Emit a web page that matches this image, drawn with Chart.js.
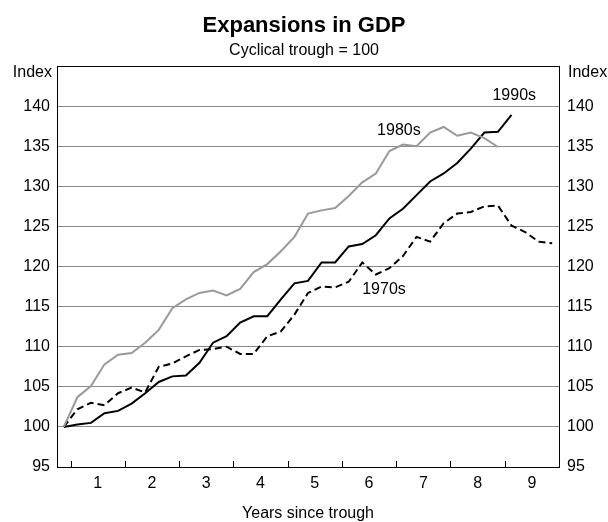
<!DOCTYPE html>
<html>
<head>
<meta charset="utf-8">
<script src="https://cdn.jsdelivr.net/npm/chart.js@4.4.1/dist/chart.umd.min.js"></script>
<style>html,body{margin:0;padding:0;background:#fff;}canvas{display:block;}</style>
</head>
<body>
<canvas id="c" width="608" height="522"></canvas>
<script>
// Quarters since cyclical trough (category index)
const quarters = [0,1,2,3,4,5,6,7,8,9,10,11,12,13,14,15,16,17,18,19,20,21,22,23,24,25,26,27,28,29,30,31,32,33,34,35,36];
// Year labels on the x axis and where they sit (centre of each year's 4 quarters)
const yearLabels = ['1','2','3','4','5','6','7','8','9'];
const yearCenters = [2.5,6.5,10.5,14.5,18.5,22.5,26.5,30.5,34.5];
const yearBoundaries = [0.5,4.5,8.5,12.5,16.5,20.5,24.5,28.5,32.5];
// Y axis ticks
const yTicks = [95,100,105,110,115,120,125,130,135,140,145];

// Series (index, trough = 100)
const s1970 = [100,102.2,103.0,102.7,104.2,104.9,104.3,107.5,107.9,108.8,109.6,109.7,110.0,109.1,109.1,111.3,111.9,114.0,116.7,117.5,117.4,118.1,120.5,119.0,119.8,121.3,123.7,123.1,125.4,126.6,126.8,127.5,127.6,125.1,124.3,123.1,122.9];
const s1980 = [100,103.7,105.1,107.8,109.0,109.2,110.5,112.1,114.8,115.9,116.7,117.0,116.4,117.2,119.3,120.3,121.9,123.7,126.6,127.0,127.3,128.8,130.5,131.6,134.4,135.2,135.0,136.7,137.4,136.3,136.7,136.0,134.9,null,null,null,null];
const s1990 = [100,100.3,100.5,101.7,102.0,102.9,104.2,105.6,106.3,106.4,108.0,110.5,111.3,113.0,113.8,113.8,115.9,117.9,118.2,120.5,120.5,122.5,122.8,123.9,126.0,127.2,128.9,130.6,131.6,132.9,134.7,136.7,136.8,138.9,null,null,null];

// Series name labels, anchored in data coordinates
const seriesNames = ['1990s','1980s','1970s'];
const nameAnchorsX = [33.2,24.7,23.6];
const nameAnchorsY = [141.3,137.0,117.1];

const FONT = "'Liberation Sans', Arial, sans-serif";
const toPoints = arr => quarters.map((q,i) => ({x:q, y:arr[i]}));

const overlay = {
  id: 'overlay',
  afterDatasetsDraw(chart) {
    const {ctx, chartArea, scales} = chart;
    const x = scales.x, y = scales.y;
    ctx.save();
    ctx.strokeStyle = '#000';
    ctx.lineWidth = 1;
    yearBoundaries.forEach(v => {
      const px = Math.round(x.getPixelForValue(v)) + 0.5;
      ctx.beginPath();
      ctx.moveTo(px, chartArea.bottom);
      ctx.lineTo(px, chartArea.bottom - 6);
      ctx.stroke();
    });
    ctx.fillStyle = '#000';
    ctx.font = '16px ' + FONT;
    ctx.textBaseline = 'middle';
    ctx.textAlign = 'center';
    seriesNames.forEach((t,i) => {
      ctx.fillText(t, x.getPixelForValue(nameAnchorsX[i]), y.getPixelForValue(nameAnchorsY[i]));
    });
    // Axis unit labels
    ctx.textAlign = 'right';
    ctx.fillText('Index', chartArea.left - 5, chartArea.top + 7);
    ctx.textAlign = 'left';
    ctx.fillText('Index', chartArea.right + 9, chartArea.top + 7);
    ctx.restore();
  }
};

const gridColor = ctx => {
  const v = ctx.tick && ctx.tick.value;
  if (v === 145) return '#000';
  if (v === 95) return 'rgba(0,0,0,0)';
  return '#8a8a8a';
};

new Chart(document.getElementById('c'), {
  type: 'line',
  data: {
    datasets: [
      {label:'1980s', data: toPoints(s1980), borderColor:'#999999', borderWidth:2, pointRadius:0, tension:0, spanGaps:false},
      {label:'1970s', data: toPoints(s1970), borderColor:'#000', borderWidth:2, borderDash:[7,4], pointRadius:0, tension:0},
      {label:'1990s', data: toPoints(s1990), borderColor:'#000', borderWidth:2, pointRadius:0, tension:0}
    ]
  },
  options: {
    responsive: false,
    animation: false,
    devicePixelRatio: 1,
    layout: {padding: 0},
    plugins: {
      legend: {display:false},
      tooltip: {enabled:false},
      title: {display:true, text:'Expansions in GDP', color:'#000', font:{family:FONT, size:22, weight:'bold', lineHeight:1.2}, padding:{top:13, bottom:2}},
      subtitle: {display:true, text:'Cyclical trough = 100', color:'#000', font:{family:FONT, size:16, lineHeight:1.2}, padding:{top:0, bottom:5.4}}
    },
    scales: {
      x: {
        type:'linear', min:-0.5, max:36.5,
        afterBuildTicks: s => { s.ticks = yearCenters.map(v => ({value:v})); },
        afterFit: s => { s.height = 55; },
        ticks: {autoSkip:false, maxRotation:0, padding:7, color:'#000', font:{family:FONT, size:16},
                callback: (v, i) => yearLabels[i]},
        grid: {display:false, drawTicks:false},
        border: {display:true, color:'#000', width:1},
        title: {display:true, text:'Years since trough', color:'#000', font:{family:FONT, size:16, lineHeight:1}, padding:{top:0, bottom:0}}
      },
      y: {
        position:'left', min:95, max:145,
        afterBuildTicks: s => { s.ticks = yTicks.map(v => ({value:v})); },
        afterFit: s => { s.width = 57; },
        ticks: {padding:7, color:'#000', font:{family:FONT, size:16}, callback: v => v === 145 ? '' : String(v)},
        grid: {color: gridColor, lineWidth:1, drawTicks:false},
        border: {display:true, color:'#000', width:1}
      },
      y2: {
        position:'right', min:95, max:145,
        afterBuildTicks: s => { s.ticks = yTicks.map(v => ({value:v})); },
        afterFit: s => { s.width = 49; },
        ticks: {padding:8, color:'#000', font:{family:FONT, size:16}, callback: v => v === 145 ? '' : String(v)},
        grid: {drawOnChartArea:false, drawTicks:false},
        border: {display:true, color:'#000', width:1}
      }
    }
  },
  plugins: [overlay]
});
</script>
</body>
</html>
